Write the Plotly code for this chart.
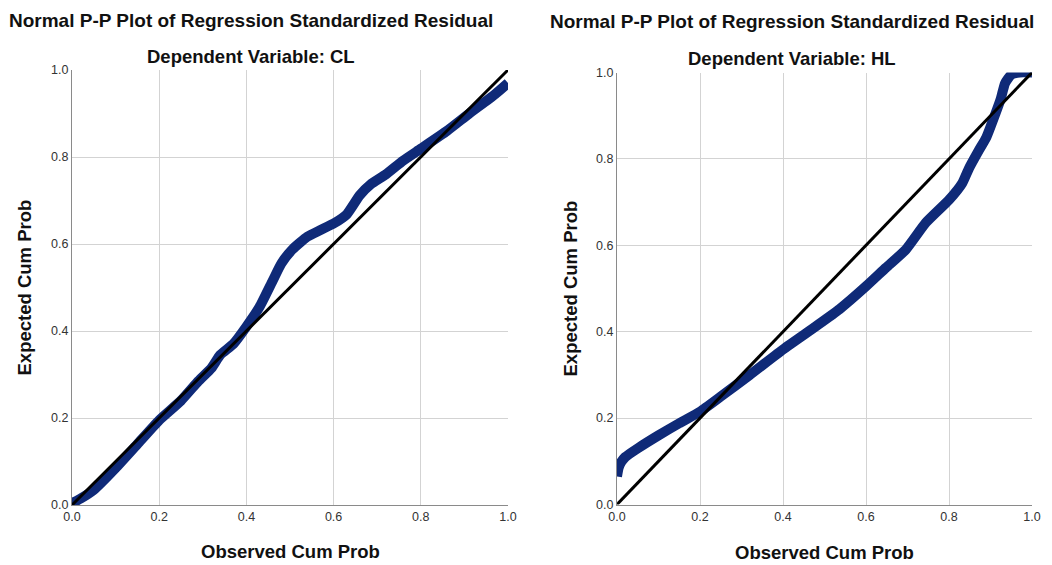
import plotly.graph_objects as go

# Observed vs expected cumulative probabilities (regression standardized residuals)
cl_observed = [0.0, 0.02, 0.05, 0.10, 0.15, 0.20, 0.25, 0.29, 0.32, 0.34, 0.37, 0.40,
               0.43, 0.46, 0.48, 0.505, 0.54, 0.57, 0.60, 0.63, 0.66, 0.685, 0.72,
               0.76, 0.80, 0.86, 0.91, 0.97, 1.0]
cl_expected = [0.004, 0.015, 0.035, 0.085, 0.14, 0.195, 0.24, 0.285, 0.315, 0.345, 0.37,
               0.41, 0.455, 0.515, 0.555, 0.587, 0.617, 0.632, 0.647, 0.668, 0.712,
               0.737, 0.76, 0.792, 0.819, 0.86, 0.899, 0.944, 0.97]

hl_observed = [0.0, 0.004, 0.01, 0.02, 0.05, 0.10, 0.15, 0.20, 0.25, 0.32, 0.40, 0.48,
               0.536, 0.60, 0.648, 0.696, 0.744, 0.80, 0.832, 0.848, 0.872, 0.89, 0.91,
               0.925, 0.935, 0.95, 0.97, 1.0]
hl_expected = [0.065, 0.085, 0.098, 0.11, 0.13, 0.16, 0.188, 0.215, 0.25, 0.3, 0.359,
               0.413, 0.452, 0.505, 0.548, 0.59, 0.652, 0.705, 0.744, 0.778, 0.82, 0.85,
               0.9, 0.94, 0.975, 0.995, 1.0, 1.0]

diagonal = [0.0, 1.0]
tick_vals = [0.0, 0.2, 0.4, 0.6, 0.8, 1.0]
tick_text = ["0.0", "0.2", "0.4", "0.6", "0.8", "1.0"]

panels = [
    {"name": "CL", "x": cl_observed, "y": cl_expected,
     "xdom": [72 / 1052, 508 / 1052], "ydom": [1 - 505 / 565, 1 - 70 / 565],
     "title_x": 251, "title_y": 20, "sub_y": 56, "ytitle_x": 24, "xtitle_y": 551},
    {"name": "HL", "x": hl_observed, "y": hl_expected,
     "xdom": [617 / 1052, 1032 / 1052], "ydom": [1 - 504.5 / 565, 1 - 72.5 / 565],
     "title_x": 792, "title_y": 21, "sub_y": 59, "ytitle_x": 570, "xtitle_y": 552},
]

W, H = 1052, 565
FONT = "Liberation Sans, Arial, sans-serif"
BLUE = "#0f2a78"

fig = go.Figure()
annotations = []
for i, p in enumerate(panels, start=1):
    xa = "x" if i == 1 else f"x{i}"
    ya = "y" if i == 1 else f"y{i}"
    fig.add_trace(go.Scatter(x=p["x"], y=p["y"], mode="lines", xaxis=xa, yaxis=ya,
                             line=dict(color=BLUE, width=10, shape="spline", smoothing=0.5),
                             showlegend=False, hoverinfo="skip"))
    fig.add_trace(go.Scatter(x=diagonal, y=diagonal, mode="lines", xaxis=xa, yaxis=ya,
                             line=dict(color="black", width=3),
                             showlegend=False, hoverinfo="skip"))
    axis_common = dict(range=[0, 1], tickvals=tick_vals, ticktext=tick_text,
                       showgrid=True, gridcolor="#d3d3d3", gridwidth=1,
                       zeroline=False, showline=True, linecolor="#8a8a8a", linewidth=1,
                       ticks="", tickfont=dict(family=FONT, size=12.5, color="#333333"),
                       fixedrange=True)
    fig.update_layout(**{
        ("xaxis" if i == 1 else f"xaxis{i}"): dict(domain=p["xdom"], anchor=ya, **axis_common),
        ("yaxis" if i == 1 else f"yaxis{i}"): dict(domain=p["ydom"], anchor=xa, **axis_common),
    })
    xc = (p["xdom"][0] + p["xdom"][1]) / 2
    yc = (p["ydom"][0] + p["ydom"][1]) / 2
    title_font = dict(family=FONT, size=19, color="#111111")
    bold = dict(family=FONT, size=18.5, color="#111111")
    annotations += [
        dict(text="<b>Normal P-P Plot of Regression Standardized Residual</b>",
             x=p["title_x"] / W, y=1 - p["title_y"] / H, xref="paper", yref="paper",
             xanchor="center", yanchor="middle", showarrow=False, font=title_font),
        dict(text=f"<b>Dependent Variable: {p['name']}</b>",
             x=p["title_x"] / W, y=1 - p["sub_y"] / H, xref="paper", yref="paper",
             xanchor="center", yanchor="middle", showarrow=False, font=bold),
        dict(text="<b>Expected Cum Prob</b>", textangle=-90,
             x=p["ytitle_x"] / W, y=yc, xref="paper", yref="paper",
             xanchor="center", yanchor="middle", showarrow=False, font=bold),
        dict(text="<b>Observed Cum Prob</b>",
             x=xc, y=1 - p["xtitle_y"] / H, xref="paper", yref="paper",
             xanchor="center", yanchor="middle", showarrow=False, font=bold),
    ]

fig.update_layout(width=W, height=H, autosize=False,
                  margin=dict(l=0, r=0, t=0, b=0),
                  paper_bgcolor="white", plot_bgcolor="white",
                  annotations=annotations, template="none")

fig.write_html("out.html", config={"displayModeBar": False})
